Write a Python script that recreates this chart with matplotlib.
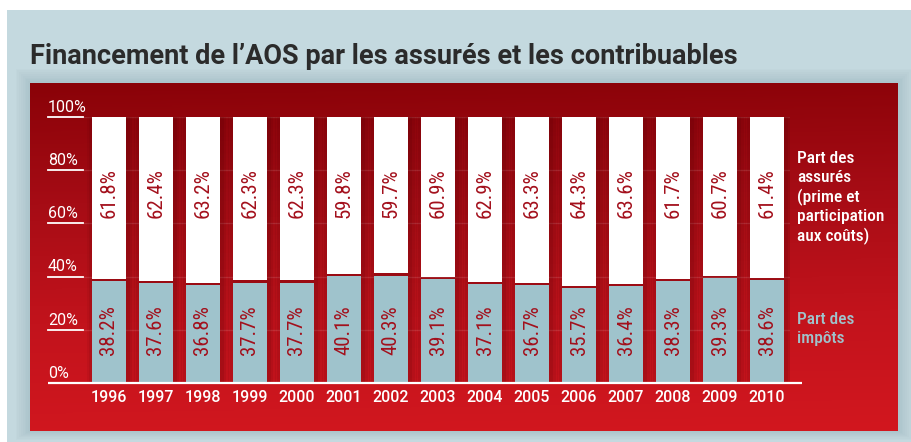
import matplotlib
matplotlib.use('Agg')
import matplotlib.pyplot as plt
import matplotlib.patches as mpatches
import matplotlib.transforms as mtrans
import numpy as np
from matplotlib.colors import LinearSegmentedColormap

# ── données ───────────────────────────────────────────────────────────────────
years = ['1996', '1997', '1998', '1999', '2000', '2001', '2002', '2003',
         '2004', '2005', '2006', '2007', '2008', '2009', '2010']
part_impots = [38.2, 37.6, 36.8, 37.7, 37.7, 40.1, 40.3, 39.1,
               37.1, 36.7, 35.7, 36.4, 38.3, 39.3, 38.6]
part_assures = [61.8, 62.4, 63.2, 62.3, 62.3, 59.8, 59.7, 60.9,
                62.9, 63.3, 64.3, 63.6, 61.7, 60.7, 61.4]
yticks = [0, 20, 40, 60, 80, 100]
title = "Financement de l\u2019AOS par les assurés et les contribuables"
leg_assures = 'Part des\nassurés\n(prime et\nparticipation\naux coûts)'
leg_impots = 'Part des\nimpôts'

# ── style ─────────────────────────────────────────────────────────────────────
COND = 'Roboto Condensed'
plt.rcParams['font.family'] = [COND, 'DejaVu Sans']
WIDE = ['Roboto', 'DejaVu Sans']

BG = '#c4d9df'
BLUE = '#9fc3cc'
LBL = '#a3101c'
TITLE_C = '#2b2b2b'

W, H = 912, 442
fig = plt.figure(figsize=(W / 100, H / 100), dpi=100)
fig.patch.set_facecolor('white')


def fx(px):
    return px / W


def fy(py):
    return 1 - py / H


# fond bleu-gris
fig.patches.append(mpatches.Rectangle((fx(7), 0), fx(912) - fx(7), fy(10),
                                      transform=fig.transFigure,
                                      facecolor=BG, edgecolor='none', zorder=0))

# ombre douce du panneau rouge
for i in range(8):
    d = (8 - i) * 1.8
    fig.patches.append(mpatches.Rectangle(
        (fx(30 - d), fy(431 + d * 0.6)), fx(868 + 2 * d),
        fy(83 - d) - fy(431 + d * 0.6),
        transform=fig.transFigure, facecolor='#5a7882', alpha=0.025,
        edgecolor='none', zorder=1))

# panneau rouge en dégradé
pax = fig.add_axes([fx(30), fy(431), fx(868), fy(83) - fy(431)], zorder=2)
grad_cmap = LinearSegmentedColormap.from_list(
    'rouge', ['#8a0208', '#a60c15', '#c2131c', '#d2171f'])
gy = np.linspace(0, 1, 256).reshape(-1, 1)
gx = np.linspace(0, 1, 64).reshape(1, -1)
pax.imshow(gy + 0.04 * gx, cmap=grad_cmap, aspect='auto',
           extent=[0, 1, 0, 1], origin='upper')
pax.axis('off')

fig.text(fx(30), fy(57), title, fontsize=19.5, fontweight='bold',
         family=WIDE, color=TITLE_C, ha='left', va='center')

# ── graphique ─────────────────────────────────────────────────────────────────
ax = fig.add_axes([fx(83), fy(383), fx(707), fy(117) - fy(383)], zorder=3)
ax.patch.set_alpha(0)
for s in ax.spines.values():
    s.set_visible(False)
ax.set_xlim(-0.553, 14.489)
ax.set_ylim(0, 100)
ax.set_xticks([])
ax.set_yticks([])

x = np.arange(len(years))
bw = 0.72
GAP = 0.9

# lignes de grille
for t in yticks[1:]:
    ax.axhline(t, color='white', alpha=0.13, lw=1.0, zorder=0)

# ombres des barres
for xi in x:
    for k, a in enumerate([0.06, 0.08, 0.10]):
        e = (3 - k) * 0.05
        ax.add_patch(mpatches.Rectangle((xi - bw / 2 - e + 0.04, -0.5),
                                        bw + 2 * e, 101.5,
                                        facecolor='#3a0003', alpha=a,
                                        edgecolor='none', zorder=1))

ax.bar(x, part_impots, width=bw, color=BLUE, edgecolor='none', zorder=2)
bottoms = [100 - v + GAP for v in part_assures]
ax.bar(x, [v - GAP for v in part_assures], bottom=bottoms, width=bw,
       color='white', edgecolor='none', zorder=2)

for xi, v in zip(x, part_impots):
    ax.text(xi, 19.9, f'{v:.1f}%', rotation=90, ha='center', va='center',
            fontsize=15, color=LBL, zorder=4)
for xi, v in zip(x, part_assures):
    ax.text(xi, 71.4, f'{v:.1f}%', rotation=90, ha='center', va='center',
            fontsize=15, color=LBL, zorder=4)

# axe des y (étiquettes soulignées)
trans = mtrans.blended_transform_factory(ax.transAxes, ax.transData)
for t in yticks:
    ax.text(-0.0495, t + 0.8, f'{t}%', transform=trans, ha='left',
            va='bottom', fontsize=11.5, family=WIDE, color='white', zorder=4)
    if t > 0:
        ax.plot([-0.0495, 0.0], [t, t], transform=trans, color='white',
                lw=1.3, clip_on=False, zorder=4)
ax.plot([-0.0495, 1.017], [0, 0], transform=trans, color='white', lw=1.6,
        clip_on=False, zorder=4, solid_capstyle='butt')

# années
for xi, yr in zip(x, years):
    ax.text(xi, -5.3, yr, ha='center', va='center', fontsize=11.5,
            family=WIDE, fontweight='medium', color='white', zorder=4)

# légende
ax.text(1.0099, 87.2, leg_assures, transform=trans, ha='left',
        va='top', fontsize=12.5, color='white', linespacing=1.3,
        fontweight='medium')
ax.text(1.0099, 26.7, leg_impots, transform=trans, ha='left',
        va='top', fontsize=12.5, color=BLUE, linespacing=1.3,
        fontweight='medium')

fig.savefig('out.png', dpi=100, facecolor=fig.get_facecolor())
